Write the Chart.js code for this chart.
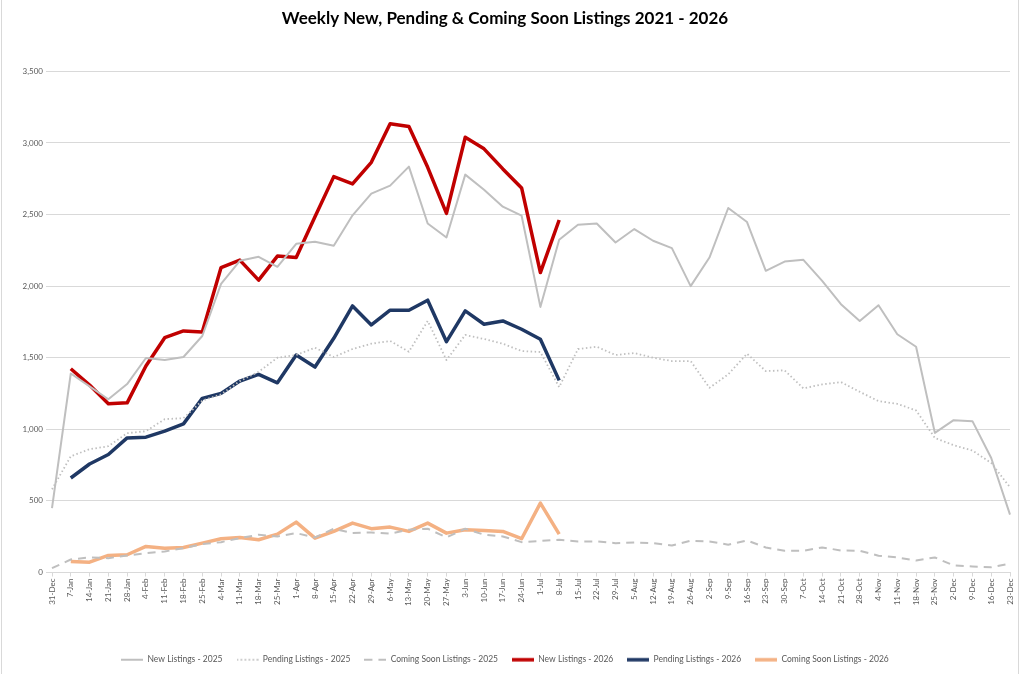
<!DOCTYPE html>
<html>
<head>
<meta charset="utf-8">
<script src="https://cdn.jsdelivr.net/npm/chart.js@4"></script>
<style>
  html, body { margin: 0; padding: 0; background: #fff; }
  #wrap { width: 1024px; height: 674px; }
</style>
</head>
<body>
<div id="wrap"><canvas id="chart" width="1024" height="674"></canvas></div>
<script>
const weeks = ['31-Dec', '7-Jan', '14-Jan', '21-Jan', '28-Jan', '4-Feb', '11-Feb', '18-Feb', '25-Feb',
  '4-Mar', '11-Mar', '18-Mar', '25-Mar', '1-Apr', '8-Apr', '15-Apr', '22-Apr', '29-Apr', '6-May',
  '13-May', '20-May', '27-May', '3-Jun', '10-Jun', '17-Jun', '24-Jun', '1-Jul', '8-Jul', '15-Jul',
  '22-Jul', '29-Jul', '5-Aug', '12-Aug', '19-Aug', '26-Aug', '2-Sep', '9-Sep', '16-Sep', '23-Sep',
  '30-Sep', '7-Oct', '14-Oct', '21-Oct', '28-Oct', '4-Nov', '11-Nov', '18-Nov', '25-Nov', '2-Dec',
  '9-Dec', '16-Dec', '23-Dec'];

// 2025 series (full year)
const newListings2025 = [450, 1390, 1300, 1210, 1316, 1498, 1484, 1505, 1652, 2016, 2177, 2205, 2135,
  2296, 2310, 2282, 2495, 2646, 2702, 2835, 2438, 2340, 2779, 2674, 2555, 2492, 1855, 2324, 2429,
  2438, 2305, 2399, 2317, 2266, 2000, 2200, 2546, 2448, 2107, 2172, 2184, 2037, 1874, 1757, 1867,
  1664, 1577, 975, 1064, 1057, 800, 404];
const pending2025 = [581, 812, 861, 882, 973, 987, 1071, 1078, 1200, 1245, 1337, 1402, 1500,
  1519, 1570, 1505, 1561, 1598, 1617, 1542, 1757, 1484, 1659, 1631, 1598, 1547, 1540, 1295, 1561,
  1577, 1519, 1533, 1500, 1477, 1477, 1290, 1384, 1528, 1407, 1412, 1286, 1314, 1330, 1262, 1197,
  1178, 1132, 940, 889, 852, 765, 595];
const comingSoon2025 = [30, 91, 105, 100, 119, 135, 147, 170, 198, 212, 240, 264, 252,
  275, 245, 306, 275, 280, 271, 299, 306, 245, 306, 264, 252, 212, 220, 229, 217,
  217, 205, 210, 205, 189, 222, 217, 194, 224, 175, 152, 152, 175, 154, 152, 117,
  105, 84, 105, 49, 42, 37, 61];

// 2026 series (through 8-Jul)
const newListings2026 = [null, 1423, 1309, 1178, 1185, 1442, 1640, 1687, 1680, 2130, 2182, 2042, 2210,
  2200, 2485, 2765, 2714, 2865, 3134, 3115, 2830, 2508, 3040, 2959, 2819, 2686, 2095, 2462];
const pending2026 = [null, 660, 758, 824, 940, 945, 987, 1038, 1216, 1251, 1337, 1384, 1325,
  1519, 1435, 1636, 1862, 1729, 1832, 1832, 1902, 1612, 1827, 1734, 1757, 1699, 1629, 1342];
const comingSoon2026 = [null, 77, 72, 119, 124, 182, 170, 175, 205, 236, 245, 229, 268,
  352, 240, 287, 345, 306, 317, 287, 345, 275, 299, 294, 287, 236, 485, 268];

const yTicks = { min: 0, max: 3500, step: 500 };

Chart.defaults.font.family = 'Lato, "Open Sans", sans-serif';
Chart.defaults.color = '#595959';

const GRAY = '#bfbfbf';
const DOT = [1.5, 2.5];
const DASH = [8, 6];

// small canvas used as legend swatch, so dashed/dotted styles show up
function swatch(color, width, dash) {
  const c = document.createElement('canvas');
  c.width = 22;
  c.height = 6;
  const g = c.getContext('2d');
  g.strokeStyle = color;
  g.lineWidth = width;
  g.setLineDash(dash || []);
  g.beginPath();
  g.moveTo(0, 3);
  g.lineTo(22, 3);
  g.stroke();
  return c;
}

const frame = {
  id: 'frame',
  beforeDraw(chart) {
    const ctx = chart.ctx;
    ctx.save();
    ctx.fillStyle = '#fff';
    ctx.fillRect(0, 0, chart.width, chart.height);
    ctx.strokeStyle = '#d9d9d9';
    ctx.lineWidth = 1;
    ctx.strokeRect(1.5, -2, 1017, chart.height + 4);
    ctx.restore();
  }
};

new Chart(document.getElementById('chart'), {
  type: 'line',
  data: {
    labels: weeks,
    datasets: [
      { label: 'New Listings - 2025', data: newListings2025, borderColor: GRAY, backgroundColor: GRAY, borderWidth: 2 },
      { label: 'Pending Listings - 2025', data: pending2025, borderColor: GRAY, backgroundColor: GRAY, borderWidth: 1.8, borderDash: DOT },
      { label: 'Coming Soon Listings - 2025', data: comingSoon2025, borderColor: GRAY, backgroundColor: GRAY, borderWidth: 2, borderDash: DASH },
      { label: 'New Listings - 2026', data: newListings2026, borderColor: '#c00000', backgroundColor: '#c00000', borderWidth: 3.5 },
      { label: 'Pending Listings - 2026', data: pending2026, borderColor: '#1f3864', backgroundColor: '#1f3864', borderWidth: 3.5 },
      { label: 'Coming Soon Listings - 2026', data: comingSoon2026, borderColor: '#f4b183', backgroundColor: '#f4b183', borderWidth: 3.5 }
    ]
  },
  options: {
    responsive: false,
    animation: false,
    elements: {
      point: { radius: 0, hoverRadius: 0 },
      line: { tension: 0, borderJoinStyle: 'round', borderCapStyle: 'butt' }
    },
    layout: { padding: { left: 0, right: 14, top: 0, bottom: 0 } },
    plugins: {
      title: {
        display: true,
        text: 'Weekly New, Pending & Coming Soon Listings 2021 - 2026',
        color: '#000',
        font: { size: 17, weight: 'bold' },
        padding: { top: 8, bottom: 43 }
      },
      legend: {
        position: 'bottom',
        labels: {
          usePointStyle: true,
          pointStyleWidth: 22,
          boxHeight: 8,
          padding: 14,
          color: '#595959',
          font: { size: 8.5 },
          generateLabels(chart) {
            return chart.data.datasets.map((ds, i) => ({
              text: ds.label,
              fillStyle: ds.borderColor,
              strokeStyle: ds.borderColor,
              lineWidth: 0,
              hidden: false,
              datasetIndex: i,
              fontColor: '#595959',
              pointStyle: swatch(ds.borderColor, ds.borderWidth, ds.borderDash)
            }));
          }
        }
      },
      tooltip: { enabled: false }
    },
    scales: {
      x: {
        ticks: { autoSkip: false, maxRotation: 90, minRotation: 90, font: { size: 8 }, color: '#595959', padding: 2 },
        grid: { display: true, drawOnChartArea: false, tickLength: 4, color: '#d9d9d9' },
        border: { color: '#d9d9d9' },
        afterFit(scale) { scale.height = 69; }
      },
      y: {
        min: yTicks.min,
        max: yTicks.max,
        ticks: { stepSize: yTicks.step, font: { size: 8 }, color: '#595959', padding: 3 },
        grid: { color: '#d9d9d9', tickLength: 6 },
        border: { display: false },
        afterFit(scale) { scale.width = 52; }
      }
    }
  },
  plugins: [frame]
});
</script>
</body>
</html>
